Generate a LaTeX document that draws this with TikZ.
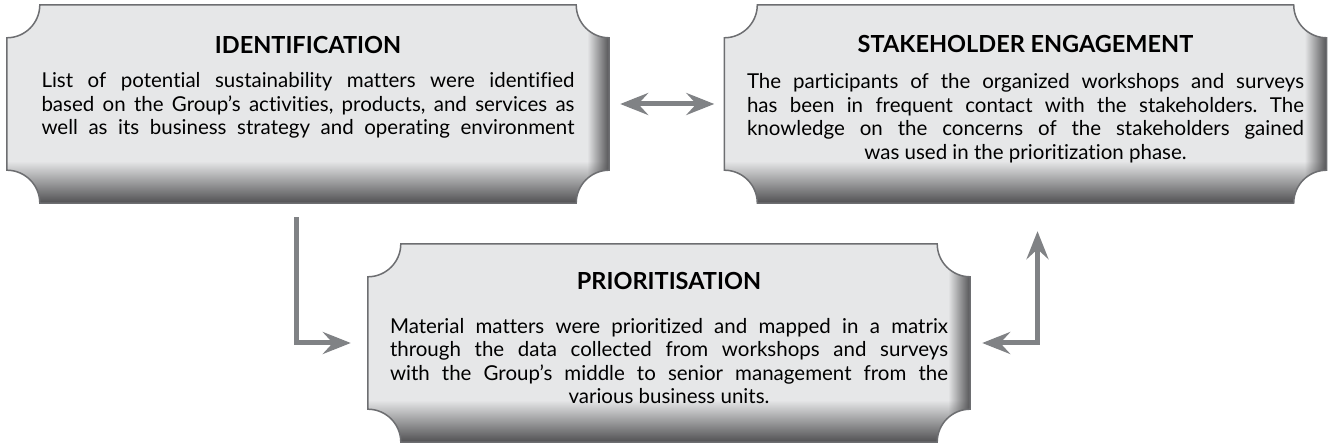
\documentclass[tikz,border=0pt]{standalone}
\usepackage{fontspec}
\setmainfont{Lato}[Ligatures={TeX,NoCommon}]
\usetikzlibrary{arrows.meta,calc,fadings}
\definecolor{boxfill}{HTML}{E6E7E8}
\definecolor{boxdark}{HTML}{4D4D4F}
\definecolor{boxline}{HTML}{6D6E71}
\definecolor{linkgray}{HTML}{808285}
\tikzfading[name=fadeup,top color=transparent!100,middle color=transparent!75,bottom color=transparent!0]
\tikzfading[name=fadeleft,left color=transparent!100,middle color=transparent!75,right color=transparent!0]
\tikzstyle{box}=[minimum width=602pt,minimum height=198pt,inner sep=0pt]
\tikzstyle{title}=[font=\bfseries\fontsize{23.5}{26}\selectfont,anchor=base,inner sep=0pt]
\tikzstyle{body}=[font=\fontsize{20.5}{23.5}\selectfont,anchor=base,inner sep=0pt]
\tikzstyle{link}=[draw=linkgray,line width=5pt]
\tikzset{plaquepath/.style={insert path={($(#1.south west)+(0,33)$)
  -- ($(#1.north west)+(0,-33)$) arc[start angle=270,end angle=360,radius=33]
  -- ($(#1.north east)+(-33,0)$) arc[start angle=180,end angle=270,radius=33]
  -- ($(#1.south east)+(0,33)$) arc[start angle=90,end angle=180,radius=33]
  -- ($(#1.south west)+(33,0)$) arc[start angle=0,end angle=90,radius=33] -- cycle}}}
\newcommand{\plaque}[1]{%
  \fill[boxfill,plaquepath=#1];
  \begin{scope}
    \clip[plaquepath=#1];
    \fill[boxdark,path fading=fadeup] ($(#1.south west)+(-1,-1)$) rectangle ($(#1.south east)+(1,42)$);
    \fill[boxdark,path fading=fadeleft] ($(#1.south east)+(-22,-1)$) rectangle ($(#1.north east)+(1,1)$);
  \end{scope}
  \draw[boxline,line width=1.5pt,plaquepath=#1];}

\begin{document}
\begin{tikzpicture}[x=1pt,y=1pt,>={Stealth[length=28pt,width=22pt,inset=10pt]}]
  \useasboundingbox (0,0) rectangle (1330,444);
  \node[box] (ident) at (308,340) {};
  \node[box] (stake) at (1025.5,340) {};
  \node[box] (prior) at (669,101) {};
  \plaque{ident}
  \plaque{stake}
  \plaque{prior}
  \node[title] (identtitle) at ([yshift=-49pt]ident.north) {IDENTIFICATION};
  \node[body] (identtext) at ([yshift=-83pt]ident.north) {\parbox[t]{533pt}{\frenchspacing\parfillskip=0pt
    List of potential sustainability matters were identified\linebreak
    based on the Group's activities, products, and services as\linebreak
    well as its business strategy and operating environment\par}};
  \node[title] (staketitle) at ([yshift=-48pt]stake.north) {STAKEHOLDER ENGAGEMENT};
  \node[body] (staketext) at ([yshift=-84pt]stake.north) {\parbox[t]{557pt}{\frenchspacing\parfillskip=0pt
    The participants of the organized workshops and surveys\linebreak
    has been in frequent contact with the stakeholders. The\linebreak
    knowledge on the concerns of the stakeholders gained\par
    \centering was used in the prioritization phase.\par}};
  \node[title] (priortitle) at ([yshift=-45.5pt]prior.north) {PRIORITISATION};
  \node[body] (priortext) at ([yshift=-89.5pt]prior.north) {\parbox[t]{558pt}{\frenchspacing\parfillskip=0pt
    Material matters were prioritized and mapped in a matrix\linebreak
    through the data collected from workshops and surveys\linebreak
    with the Group's middle to senior management from the\par
    \centering various business units.\par}};
  \draw[link,<->,shorten <=11pt,shorten >=10pt] (ident) -- (stake);
  \draw[link,->,shorten >=17pt] ([shift={(-12pt,-14pt)}]ident.south) |- (prior);
  \draw[link,<->,shorten <=12pt,shorten >=14pt] (prior) -| ([shift={(12pt,-14pt)}]stake.south);
\end{tikzpicture}
\end{document}
